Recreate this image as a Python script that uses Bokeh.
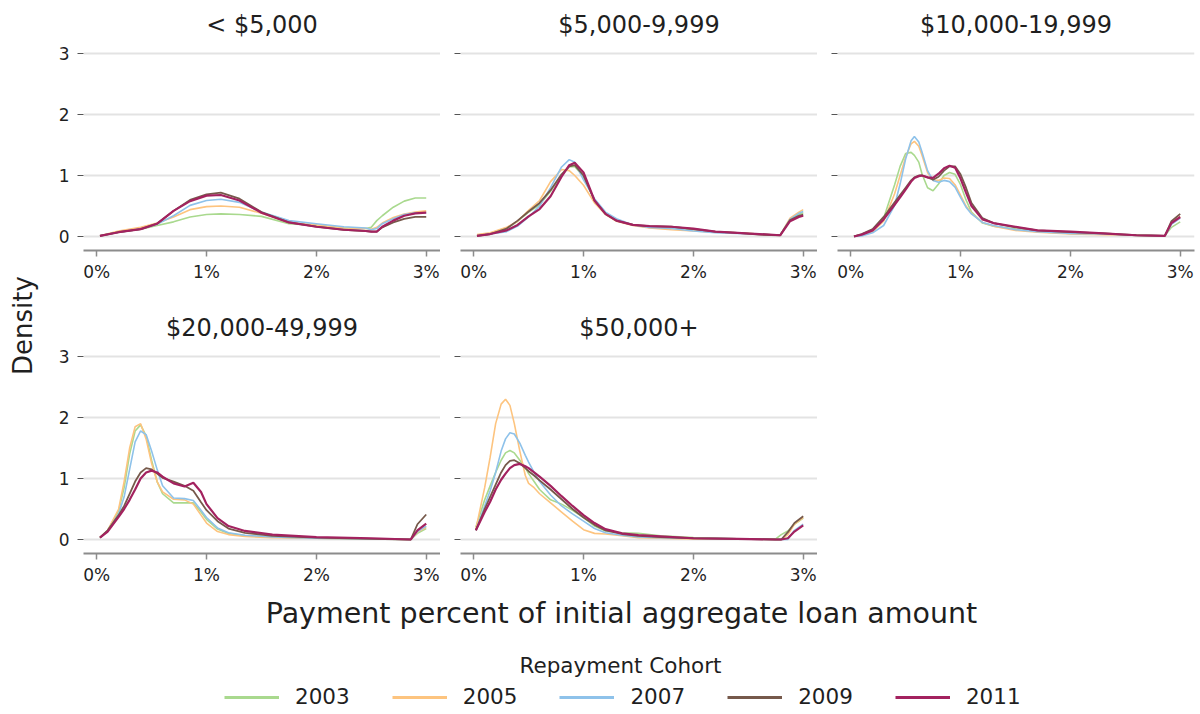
import math
from bokeh.plotting import figure
from bokeh.models import (Range1d, FixedTicker, PrintfTickFormatter, Label,
                          Legend, LegendItem, CustomJSTickFormatter)
from bokeh.layouts import row, column
from bokeh.embed import file_html
from bokeh.resources import INLINE

# ---------------- data ----------------
COHORTS = ["2003", "2005", "2007", "2009", "2011"]
COLORS = ["#a9d98e", "#fdc47f", "#8ec2ea", "#76594b", "#a3225f"]
WIDTHS = [1.6, 1.6, 1.6, 1.8, 2.2]
TITLES = ["< $5,000", "$5,000-9,999", "$10,000-19,999", "$20,000-49,999", "$50,000+"]
X_TICKS = [0, 1, 2, 3]
Y_TICKS = [0, 1, 2, 3]

# Panel 1: < $5,000
X_P1 = [0.03, 0.2, 0.4, 0.55, 0.7, 0.85, 1.0, 1.13, 1.3, 1.5, 1.75, 2.0, 2.25, 2.45,
        2.5, 2.55, 2.6, 2.7, 2.8, 2.9, 3.0]
P1_2003 = [0.01, 0.07, 0.12, 0.18, 0.24, 0.32, 0.36, 0.37, 0.36, 0.33, 0.21, 0.18, 0.14, 0.13,
           0.15, 0.26, 0.34, 0.48, 0.58, 0.63, 0.63]
P1_2005 = [0.01, 0.09, 0.15, 0.22, 0.32, 0.44, 0.49, 0.50, 0.48, 0.38, 0.23, 0.19, 0.14, 0.13,
           0.12, 0.15, 0.22, 0.31, 0.37, 0.40, 0.42]
P1_2007 = [0.01, 0.07, 0.12, 0.20, 0.34, 0.51, 0.59, 0.61, 0.56, 0.40, 0.26, 0.21, 0.16, 0.14,
           0.11, 0.13, 0.21, 0.29, 0.36, 0.39, 0.39]
P1_2009 = [0.01, 0.07, 0.12, 0.21, 0.42, 0.60, 0.69, 0.72, 0.62, 0.40, 0.23, 0.16, 0.11, 0.09,
           0.08, 0.08, 0.15, 0.23, 0.29, 0.32, 0.32]
P1_2011 = [0.01, 0.07, 0.12, 0.21, 0.42, 0.58, 0.67, 0.68, 0.59, 0.39, 0.23, 0.16, 0.11, 0.09,
           0.08, 0.08, 0.16, 0.26, 0.34, 0.38, 0.39]

# Panel 2: $5,000-9,999
X_P2 = [0.03, 0.15, 0.3, 0.4, 0.5, 0.6, 0.7, 0.8, 0.87, 0.92, 1.0, 1.1, 1.2, 1.3, 1.45,
        1.6, 1.8, 2.0, 2.2, 2.4, 2.6, 2.79, 2.88, 2.96, 3.0]
P2_2003 = [0.01, 0.04, 0.13, 0.25, 0.40, 0.52, 0.74, 1.00, 1.14, 1.15, 0.98, 0.59, 0.37, 0.26,
           0.19, 0.15, 0.14, 0.11, 0.07, 0.06, 0.04, 0.02, 0.28, 0.36, 0.39]
P2_2005 = [0.03, 0.06, 0.15, 0.25, 0.43, 0.59, 0.90, 1.10, 1.08, 1.00, 0.84, 0.55, 0.36, 0.25,
           0.18, 0.14, 0.11, 0.09, 0.07, 0.06, 0.04, 0.02, 0.30, 0.40, 0.44]
P2_2007 = [0.01, 0.04, 0.08, 0.17, 0.32, 0.50, 0.80, 1.14, 1.26, 1.22, 0.93, 0.62, 0.40, 0.29,
           0.19, 0.15, 0.13, 0.09, 0.06, 0.05, 0.04, 0.02, 0.28, 0.38, 0.41]
P2_2009 = [0.01, 0.04, 0.13, 0.26, 0.41, 0.55, 0.76, 1.02, 1.15, 1.17, 1.00, 0.59, 0.37, 0.26,
           0.19, 0.17, 0.16, 0.12, 0.08, 0.06, 0.03, 0.02, 0.27, 0.34, 0.36]
P2_2011 = [0.01, 0.04, 0.10, 0.19, 0.33, 0.45, 0.66, 0.98, 1.17, 1.21, 1.05, 0.59, 0.37, 0.26,
           0.19, 0.17, 0.16, 0.13, 0.08, 0.06, 0.04, 0.02, 0.25, 0.32, 0.34]

# Panel 3: $10,000-19,999
X_P3 = [0.03, 0.1, 0.2, 0.3, 0.4, 0.45, 0.5, 0.55, 0.58, 0.62, 0.65, 0.7, 0.75, 0.8, 0.85,
        0.9, 0.95, 1.0, 1.05, 1.1, 1.2, 1.3, 1.5, 1.7, 2.0, 2.3, 2.6, 2.86, 2.92, 3.0]
P3_2003 = [0.0, 0.03, 0.10, 0.30, 0.85, 1.15, 1.36, 1.38, 1.33, 1.22, 1.02, 0.80, 0.75, 0.86,
           1.00, 1.05, 1.02, 0.85, 0.60, 0.40, 0.22, 0.17, 0.12, 0.08, 0.05, 0.04, 0.02, 0.01,
           0.15, 0.24]
P3_2005 = [0.0, 0.02, 0.08, 0.25, 0.70, 1.00, 1.30, 1.52, 1.56, 1.48, 1.33, 1.05, 0.92, 0.92,
           0.96, 0.95, 0.85, 0.68, 0.50, 0.38, 0.23, 0.17, 0.10, 0.07, 0.04, 0.03, 0.02, 0.01,
           0.22, 0.33]
P3_2007 = [0.0, 0.01, 0.06, 0.18, 0.51, 0.86, 1.27, 1.57, 1.64, 1.55, 1.38, 1.08, 0.92, 0.89,
           0.92, 0.90, 0.81, 0.64, 0.48, 0.37, 0.23, 0.18, 0.11, 0.08, 0.05, 0.04, 0.02, 0.01,
           0.20, 0.30]
P3_2009 = [0.0, 0.04, 0.12, 0.32, 0.56, 0.68, 0.80, 0.92, 0.97, 1.00, 1.00, 0.97, 0.93, 0.98,
           1.08, 1.15, 1.15, 1.02, 0.80, 0.55, 0.30, 0.22, 0.15, 0.10, 0.07, 0.05, 0.02, 0.01,
           0.25, 0.37]
P3_2011 = [0.0, 0.03, 0.10, 0.28, 0.52, 0.64, 0.77, 0.90, 0.96, 0.99, 1.00, 0.97, 0.96, 1.03,
           1.12, 1.16, 1.13, 0.95, 0.72, 0.50, 0.28, 0.22, 0.16, 0.10, 0.08, 0.05, 0.02, 0.01,
           0.22, 0.32]

# Panel 4: $20,000-49,999
X_P4 = [0.03, 0.1, 0.2, 0.25, 0.3, 0.35, 0.4, 0.45, 0.5, 0.55, 0.6, 0.7, 0.8, 0.88, 0.95,
        1.0, 1.1, 1.2, 1.35, 1.6, 2.0, 2.5, 2.86, 2.92, 3.0]
P4_2003 = [0.03, 0.15, 0.47, 0.85, 1.40, 1.78, 1.88, 1.70, 1.30, 0.95, 0.75, 0.60, 0.60, 0.60,
           0.45, 0.33, 0.17, 0.10, 0.06, 0.04, 0.02, 0.01, 0.0, 0.10, 0.18]
P4_2005 = [0.03, 0.15, 0.50, 0.95, 1.50, 1.85, 1.90, 1.65, 1.25, 0.95, 0.78, 0.66, 0.65, 0.58,
           0.40, 0.27, 0.13, 0.08, 0.05, 0.03, 0.02, 0.01, 0.0, 0.12, 0.20]
P4_2007 = [0.03, 0.14, 0.42, 0.70, 1.15, 1.60, 1.78, 1.72, 1.45, 1.15, 0.88, 0.68, 0.67, 0.64,
           0.48, 0.36, 0.19, 0.11, 0.07, 0.04, 0.02, 0.01, 0.0, 0.13, 0.22]
P4_2009 = [0.03, 0.15, 0.40, 0.55, 0.75, 0.95, 1.10, 1.17, 1.15, 1.08, 1.01, 0.95, 0.88, 0.80,
           0.61, 0.48, 0.30, 0.18, 0.11, 0.06, 0.03, 0.01, 0.0, 0.25, 0.41]
P4_2011 = [0.03, 0.13, 0.37, 0.50, 0.65, 0.82, 1.00, 1.10, 1.13, 1.10, 1.03, 0.92, 0.87, 0.93,
           0.78, 0.58, 0.35, 0.22, 0.14, 0.08, 0.04, 0.02, 0.0, 0.15, 0.26]

# Panel 5: $50,000+
X_P5 = [0.02, 0.1, 0.15, 0.2, 0.25, 0.29, 0.33, 0.37, 0.42, 0.47, 0.5, 0.55, 0.6, 0.7, 0.8,
        0.9, 1.0, 1.1, 1.2, 1.35, 1.5, 1.7, 2.0, 2.4, 2.75, 2.8, 2.86, 2.92, 3.0]
P5_2003 = [0.20, 0.65, 0.88, 1.10, 1.30, 1.42, 1.46, 1.42, 1.30, 1.18, 1.08, 0.95, 0.82, 0.65,
           0.58, 0.48, 0.36, 0.22, 0.14, 0.11, 0.10, 0.06, 0.03, 0.01, 0.01, 0.08, 0.14, 0.25, 0.35]
P5_2005 = [0.17, 0.85, 1.35, 1.90, 2.22, 2.30, 2.20, 1.90, 1.45, 1.05, 0.92, 0.85, 0.75, 0.60,
           0.45, 0.30, 0.16, 0.10, 0.09, 0.06, 0.03, 0.02, 0.01, 0.01, 0.0, 0.0, 0.08, 0.25, 0.36]
P5_2007 = [0.15, 0.55, 0.80, 1.10, 1.45, 1.65, 1.75, 1.73, 1.58, 1.38, 1.27, 1.10, 0.95, 0.73,
           0.55, 0.42, 0.30, 0.18, 0.11, 0.07, 0.04, 0.03, 0.02, 0.01, 0.0, 0.0, 0.0, 0.15, 0.25]
P5_2009 = [0.15, 0.50, 0.70, 0.90, 1.10, 1.22, 1.29, 1.30, 1.25, 1.17, 1.12, 1.05, 0.97, 0.82,
           0.66, 0.50, 0.36, 0.24, 0.15, 0.09, 0.06, 0.04, 0.02, 0.01, 0.0, 0.0, 0.12, 0.27, 0.38]
P5_2011 = [0.15, 0.45, 0.62, 0.82, 0.98, 1.08, 1.17, 1.22, 1.24, 1.20, 1.17, 1.10, 1.03, 0.88,
           0.71, 0.55, 0.40, 0.27, 0.17, 0.10, 0.07, 0.05, 0.02, 0.01, 0.0, 0.0, 0.02, 0.13, 0.23]

PANELS = [
    (X_P1, [P1_2003, P1_2005, P1_2007, P1_2009, P1_2011]),
    (X_P2, [P2_2003, P2_2005, P2_2007, P2_2009, P2_2011]),
    (X_P3, [P3_2003, P3_2005, P3_2007, P3_2009, P3_2011]),
    (X_P4, [P4_2003, P4_2005, P4_2007, P4_2009, P4_2011]),
    (X_P5, [P5_2003, P5_2005, P5_2007, P5_2009, P5_2011]),
]

FONT = "DejaVu Sans"
TXT = "#1f1f1f"


def make_panel(idx, first_col, top_border):
    xs, series = PANELS[idx]
    p = figure(frame_width=357, frame_height=203,
               x_range=Range1d(-0.12, 3.13), y_range=Range1d(-0.23, 3.10),
               output_backend="svg", toolbar_location=None,
               min_border_left=35 if first_col else 20, min_border_right=0,
               min_border_top=top_border, min_border_bottom=40,
               title=TITLES[idx])
    p.title.align = "center"
    p.title.text_font = FONT
    p.title.text_font_size = "24px"
    p.title.text_font_style = "normal"
    p.title.text_color = TXT
    p.title.standoff = 17
    p.outline_line_color = None
    p.background_fill_color = "white"
    p.border_fill_color = "white"

    xa = p.xaxis[0]
    xa.ticker = FixedTicker(ticks=X_TICKS)
    xa.formatter = PrintfTickFormatter(format="%d%%")
    xa.axis_line_color = "#8c8c8c"
    xa.axis_line_width = 2
    xa.major_tick_line_color = "#8c8c8c"
    xa.major_tick_line_width = 1.5
    xa.major_tick_out = 6
    xa.major_tick_in = 0
    xa.minor_tick_line_color = None
    xa.major_label_text_font = FONT
    xa.major_label_text_font_size = "17px"
    xa.major_label_text_color = TXT
    xa.major_label_standoff = 5

    ya = p.yaxis[0]
    ya.ticker = FixedTicker(ticks=Y_TICKS)
    ya.axis_line_color = None
    ya.major_tick_line_color = "#555555"
    ya.major_tick_line_width = 1.2
    ya.major_tick_out = 6
    ya.major_tick_in = 0
    ya.minor_tick_line_color = None
    ya.major_label_text_font = FONT
    ya.major_label_text_font_size = "17px"
    ya.major_label_text_color = TXT
    ya.major_label_standoff = 8
    if not first_col:
        ya.formatter = CustomJSTickFormatter(code="return ''")

    p.xgrid.grid_line_color = None
    p.ygrid.ticker = FixedTicker(ticks=Y_TICKS)
    p.ygrid.grid_line_color = "#e3e3e3"
    p.ygrid.grid_line_width = 2

    for ys, col, w in zip(series, COLORS, WIDTHS):
        p.line(xs, ys, line_color=col, line_width=w)
    return p


p1 = make_panel(0, True, 47)
p2 = make_panel(1, False, 47)
p3 = make_panel(2, False, 47)
p3.min_border_right = 2
p4 = make_panel(3, True, 60)
p5 = make_panel(4, False, 60)

# Shared y label
dens = figure(width=48, height=593, x_range=Range1d(0, 48), y_range=Range1d(0, 593),
              x_axis_type=None, y_axis_type=None, min_border=0, title=None,
              output_backend="svg", toolbar_location=None)
dens.outline_line_color = None
dens.grid.visible = False
dens.add_layout(Label(x=22, y=268, text="Density", angle=math.pi / 2,
                      text_align="center", text_baseline="middle",
                      text_font=FONT, text_font_size="26px", text_color=TXT))

# Bottom: x label + legend
BOT_H = 119
bot = figure(width=1196, height=BOT_H, x_range=Range1d(0, 1196), y_range=Range1d(0, BOT_H),
             x_axis_type=None, y_axis_type=None, min_border=0, title=None,
             output_backend="svg", toolbar_location=None)
bot.outline_line_color = None
bot.grid.visible = False
bot.add_layout(Label(x=621, y=BOT_H - 20, text="Payment percent of initial aggregate loan amount",
                     text_align="center", text_baseline="middle",
                     text_font=FONT, text_font_size="28.5px", text_color=TXT))
bot.add_layout(Label(x=620, y=BOT_H - 72, text="Repayment Cohort",
                     text_align="center", text_baseline="middle",
                     text_font=FONT, text_font_size="21.5px", text_color=TXT))
items = []
for name, col, ys in zip(COHORTS, COLORS, PANELS[4][1]):
    r = bot.line(x=PANELS[4][0], y=ys, line_color=col, line_width=3)
    r.visible = False
    items.append(LegendItem(label=name, renderers=[r]))
legend = Legend(items=items, orientation="horizontal", location=(224, 3),
                glyph_width=55, glyph_height=22, label_standoff=16, spacing=42,
                padding=0, margin=0, border_line_color=None,
                background_fill_alpha=0, click_policy="none",
                label_text_font=FONT, label_text_font_size="21.5px",
                label_text_color=TXT)
bot.add_layout(legend)

layout = column(row(dens, column(row(p1, p2, p3), row(p4, p5))), bot)

with open("out.html", "w") as f:
    f.write(file_html(layout, INLINE))
